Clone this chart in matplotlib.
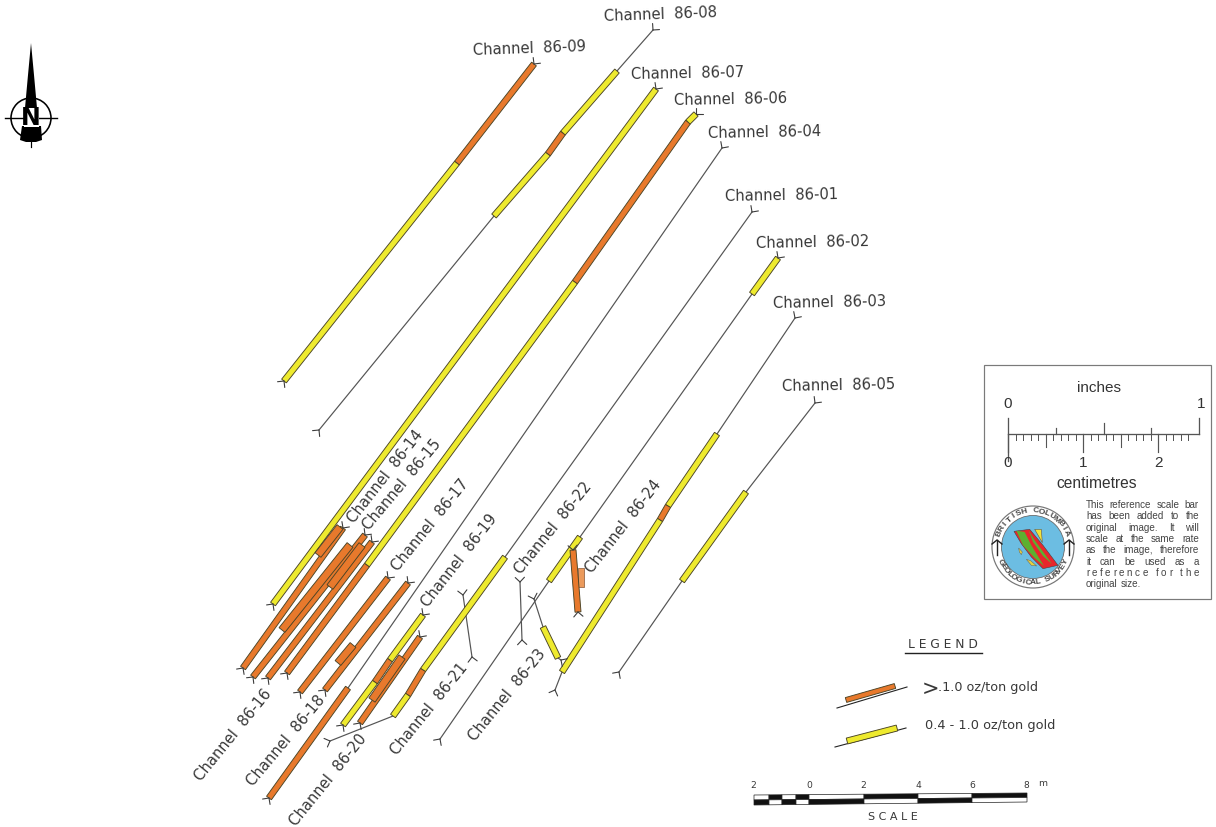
"""Channel sample map, gold grades along each channel."""
import numpy as np
import matplotlib
matplotlib.use("Agg")
import matplotlib.pyplot as plt
from matplotlib.patches import Circle, Polygon, Rectangle

W, H = 1216, 827
C_HIGH = "#e8792c"
C_LOW = "#eeea2e"
C_EDGE = "#4a4426"
C_LINE = "#3c3c3c"
C_TEXT = "#383838"
PX = 0.72  # one pixel in points at dpi 100

# channel traces: map points and the grade of each leg (None = barren line)
ch09_pts = [(284, 381), (457, 163), (534, 64)]
ch09_grade = ["low", "high"]
ch08_pts = [(319, 430), (494, 216), (548, 154), (563, 133), (617, 71), (653, 30)]
ch08_grade = [None, "low", "high", "low", None]
ch07_pts = [(273, 604), (656, 89)]
ch07_grade = ["low"]
ch06_pts = [(287, 673), (367, 565), (575, 282), (688, 122), (696, 114)]
ch06_grade = ["high", "low", "high", "low"]
ch04_pts = [(722, 148), (348, 688), (269, 798)]
ch04_grade = [None, "high"]
ch01_pts = [(752, 212), (505, 557), (423, 670), (408, 695), (393, 716), (330, 741)]
ch01_grade = [None, "low", "high", "low", None]
ch02_pts = [(778, 258), (752, 294), (580, 537), (549, 581), (440, 739)]
ch02_grade = ["low", None, "low", None]
ch03_pts = [(795, 318), (717, 434), (668, 506), (660, 520), (562, 672), (555, 690)]
ch03_grade = [None, "low", "high", "low", None]
ch05_pts = [(815, 403), (746, 492), (682, 581), (619, 672)]
ch05_grade = [None, "low", None]
ch14_pts = [(243, 668), (343, 528)]
ch14_grade = ["high"]
ch15_pts = [(253, 677), (365, 535)]
ch15_grade = ["high"]
ch16_pts = [(268, 678), (372, 542)]
ch16_grade = ["high"]
ch17_pts = [(300, 692), (388, 578)]
ch17_grade = ["high"]
ch18_pts = [(325, 690), (408, 583)]
ch18_grade = ["high"]
ch19_pts = [(343, 725), (375, 682), (390, 660), (423, 615)]
ch19_grade = ["low", "high", "low"]
ch20_pts = [(360, 723), (420, 637)]
ch20_grade = ["high"]
ch21_pts = [(463, 595), (472, 657)]
ch21_grade = [None]
ch22_pts = [(520, 582), (522, 640)]
ch22_grade = [None]
ch23_pts = [(534, 599), (543, 627), (558, 658), (561, 660)]
ch23_grade = [None, "low", None]
ch24_pts = [(573, 550), (578, 612)]
ch24_grade = ["high"]

CHANNELS = [
    (ch09_pts, ch09_grade), (ch08_pts, ch08_grade), (ch07_pts, ch07_grade),
    (ch06_pts, ch06_grade), (ch04_pts, ch04_grade), (ch01_pts, ch01_grade),
    (ch02_pts, ch02_grade), (ch03_pts, ch03_grade), (ch05_pts, ch05_grade),
    (ch14_pts, ch14_grade), (ch15_pts, ch15_grade), (ch16_pts, ch16_grade),
    (ch17_pts, ch17_grade), (ch18_pts, ch18_grade), (ch19_pts, ch19_grade),
    (ch20_pts, ch20_grade), (ch21_pts, ch21_grade), (ch22_pts, ch22_grade),
    (ch23_pts, ch23_grade), (ch24_pts, ch24_grade),
]

# second high-grade samples lying beside the main trace
side_14 = [(318, 555), (340, 527)]
side_15 = [(282, 630), (350, 545)]
side_16 = [(330, 587), (362, 545)]
side_18 = [(338, 663), (353, 645)]
side_20 = [(372, 700), (402, 657)]
side_24 = [(581, 568), (581, 587)]
SIDE_BLOCKS = [side_14, side_15, side_16, side_18, side_20]

channel_names = ["86-09", "86-08", "86-07", "86-06", "86-04", "86-01", "86-02", "86-03", "86-05",
                 "86-14", "86-15", "86-17", "86-19", "86-22", "86-24",
                 "86-16", "86-18", "86-20", "86-21", "86-23"]
label_x = [529, 660, 688, 731, 765, 782, 813, 830, 839,
           385, 402, 430, 459, 553, 623,
           233, 286, 328, 429, 507]
label_y = [49, 15, 74, 100, 133, 196, 243, 303, 386,
           477, 485, 525, 561, 528, 527,
           735, 741, 780, 709, 695]
label_rot = [2, 2, 1, 1, 1, 1, 1, 1, 1,
             52, 50, 51, 52, 51, 52,
             51, 50, 51, 51, 51]

# inset scale values
inch_ticks = [0.25, 0.5, 0.75]
cm_ticks = [0, 1, 2]
mm_ticks = [1, 2, 3, 4, 5, 6, 7, 8, 9, 10, 11, 12, 13, 14, 15, 16, 17, 18, 19, 20, 21, 22, 23, 24]
note_lines = ["This reference scale bar", "has been added to the", "original image. It will",
              "scale at the same rate", "as the image, therefore", "it can be used as a",
              "reference for the", "original size."]

# graphic scale
scale_edges = [754, 769, 782, 796, 809, 864, 918, 972, 1027]
scale_labels = ["2", "0", "2", "4", "6", "8"]
scale_label_x = [753, 809, 863, 918, 972, 1026]

plt.rcParams["font.family"] = ["DejaVu Sans"]
fig = plt.figure(figsize=(W / 100, H / 100), dpi=100)
ax = fig.add_axes([0, 0, 1, 1])
ax.set_xlim(0, W)
ax.set_ylim(H, 0)
ax.axis("off")


def draw_bar(p0, p1, color, width=6.0, z=3, edge=C_EDGE):
    p0, p1 = np.array(p0, float), np.array(p1, float)
    d = (p1 - p0) / np.hypot(*(p1 - p0))
    n = np.array([d[1], -d[0]]) * width / 2
    ax.add_patch(Polygon([p0 + n, p1 + n, p1 - n, p0 - n], closed=True, facecolor=color,
                         edgecolor=edge, linewidth=0.9 * PX, zorder=z))


def draw_fork(end, toward, arm=6.5):
    end, toward = np.array(end, float), np.array(toward, float)
    u = (end - toward) / np.hypot(*(end - toward))
    for ang in (45, -45):
        a = np.radians(ang)
        v = np.array([u[0] * np.cos(a) - u[1] * np.sin(a), u[0] * np.sin(a) + u[1] * np.cos(a)])
        ax.plot([end[0], end[0] + v[0] * arm], [end[1], end[1] + v[1] * arm],
                color=C_LINE, lw=1.1 * PX, zorder=5, solid_capstyle="round")


for pts, grades in CHANNELS:
    for i, g in enumerate(grades):
        if g is None:
            ax.plot([pts[i][0], pts[i + 1][0]], [pts[i][1], pts[i + 1][1]],
                    color="#555555", lw=1.2 * PX, zorder=2)
        else:
            draw_bar(pts[i], pts[i + 1], C_HIGH if g == "high" else C_LOW)
    draw_fork(pts[0], pts[1])
    draw_fork(pts[-1], pts[-2])

for block in SIDE_BLOCKS:
    draw_bar(block[0], block[1], C_HIGH, width=7.5, z=4)
draw_bar(side_24[0], side_24[1], "#eb9a5c", width=6, z=2, edge="#a07050")

for name, x, y, r in zip(channel_names, label_x, label_y, label_rot):
    ax.text(x, y, "Channel  " + name, rotation=r, rotation_mode="anchor", ha="center", va="center",
            fontsize=10.6, color=C_TEXT, zorder=6, clip_on=True)

# north arrow
ax.add_patch(Circle((31, 118), 20, fill=False, edgecolor="black", lw=1.6 * PX, zorder=2))
ax.plot([5, 57], [118, 118], color="black", lw=1.4 * PX, zorder=2)
ax.plot([31, 31], [130, 147], color="black", lw=1.2 * PX, zorder=2)
ax.add_patch(Polygon([(31, 43), (34, 75), (37, 108), (25, 108), (28, 75)], facecolor="black", zorder=3))
ax.add_patch(Polygon([(22, 126), (41, 126), (42, 140), (36, 142), (26, 142), (20, 140)],
                     facecolor="black", zorder=3))
ax.add_patch(Rectangle((24, 108), 15, 19, facecolor="white", edgecolor="none", zorder=3))
ax.text(31, 118, "N", fontsize=17, fontweight="bold", color="black", ha="center", va="center", zorder=4)

# legend
ax.text(943, 644, "L E G E N D", fontsize=8.8, color=C_TEXT, ha="center", va="center")
ax.plot([905, 982], [653, 653], color="#222222", lw=1.4 * PX)
ax.plot([837, 907], [708, 687], color="#222222", lw=1.1 * PX, zorder=2)
ax.plot([835, 906], [747, 728], color="#222222", lw=1.1 * PX, zorder=2)
draw_bar((846, 700), (895, 686), C_HIGH, width=5)
draw_bar((847, 741), (897, 728), C_LOW, width=6)
ax.text(930, 689, ">", fontsize=15, color=C_TEXT, ha="center", va="center")
ax.text(938, 688, ".1.0 oz/ton gold", fontsize=9.2, color=C_TEXT, ha="left", va="center")
ax.text(925, 726, "0.4 - 1.0 oz/ton gold", fontsize=9.3, color=C_TEXT, ha="left", va="center")

# graphic scale bar, tilted slightly across the page
def scale_y(x, frac):
    t = (x - scale_edges[0]) / (scale_edges[-1] - scale_edges[0])
    top, bot = 795 - 2 * t, 805 - 3 * t
    return top + frac * (bot - top)


for i in range(len(scale_edges) - 1):
    x0, x1 = scale_edges[i], scale_edges[i + 1]
    top_black = i % 2 == 1
    for frac0, frac1, black in ((0, 0.5, top_black), (0.5, 1, not top_black)):
        ax.add_patch(Polygon([(x0, scale_y(x0, frac0)), (x1, scale_y(x1, frac0)),
                              (x1, scale_y(x1, frac1)), (x0, scale_y(x0, frac1))],
                             facecolor="#111111" if black else "white",
                             edgecolor="#222222", linewidth=0.7 * PX))
for s, x in zip(scale_labels, scale_label_x):
    ax.text(x, 785, s, fontsize=6.6, color=C_TEXT, ha="center", va="center")
ax.text(1043, 784, "m", fontsize=6.6, color=C_TEXT, ha="center", va="center")
ax.text(893, 817, "S C A L E", fontsize=8, color=C_TEXT, ha="center", va="center")

# reference scale inset
SANS = "Liberation Sans"
ax.add_patch(Rectangle((984, 365), 227, 234, facecolor="white", edgecolor="#7a7a7a", lw=1.2 * PX, zorder=1))
ax.text(1099, 388, "inches", family=SANS, fontsize=11, color="#333333", ha="center", va="center")
ax.text(1008, 404, "0", family=SANS, fontsize=11, color="#333333", ha="center", va="center")
ax.text(1201, 404, "1", family=SANS, fontsize=11, color="#333333", ha="center", va="center")
ax.text(1097, 483, "centimetres", family=SANS, fontsize=11.2, color="#333333", ha="center", va="center")
x_in0, in_len = 1008.0, 191.0
cm_len = 75.2
c_sc = "#555555"
ax.plot([x_in0, x_in0 + in_len], [434, 434], color=c_sc, lw=1.3 * PX)
ax.plot([x_in0, x_in0], [418, 461], color=c_sc, lw=1.3 * PX)
ax.plot([x_in0 + in_len] * 2, [418, 434], color=c_sc, lw=1.3 * PX)
for t in inch_ticks:
    ax.plot([x_in0 + t * in_len] * 2, [423 if t == 0.5 else 428, 434], color=c_sc, lw=1.2 * PX)
for m in mm_ticks:
    ax.plot([x_in0 + m * cm_len / 10] * 2, [434, 440], color=c_sc, lw=1.0 * PX)
for m in (5, 15):
    ax.plot([x_in0 + m * cm_len / 10] * 2, [434, 447], color=c_sc, lw=1.1 * PX)
for c in cm_ticks:
    ax.plot([x_in0 + c * cm_len] * 2, [434, 452], color=c_sc, lw=1.2 * PX)
    ax.text(x_in0 + c * cm_len, 463, str(c), family=SANS, fontsize=11, color="#333333",
            ha="center", va="center")

# note text, justified across the column
renderer = fig.canvas.get_renderer()
note_left, note_right = 1086.0, 1199.0
note_y = [505, 516, 528, 539, 550, 562, 573, 584]


def put_justified(line, y, by_char=False, justify=True):
    tokens = list(line) if by_char else line.split(" ")
    arts = [ax.text(0, y, tok if tok != " " else "\u00a0", family=SANS, fontsize=7.1, color="#444444",
                    ha="left", va="center") for tok in tokens]
    widths = [a.get_window_extent(renderer).width for a in arts]
    if by_char:
        widths = [w if tok != " " else 3.0 for w, tok in zip(widths, tokens)]
    gap = (note_right - note_left - sum(widths)) / max(len(tokens) - 1, 1)
    if not justify:
        gap = 2.6
    x = note_left
    for a, w in zip(arts, widths):
        a.set_x(x)
        x += w + gap


for k, (line, y) in enumerate(zip(note_lines, note_y)):
    put_justified(line, y, by_char=k == 6, justify=k != 7)

# survey crest
cx, cy = 1033.0, 547.0
ax.add_patch(Circle((cx, cy), 41, facecolor="white", edgecolor="#777777", lw=1.2 * PX, zorder=2))
ax.add_patch(Circle((cx, cy), 31.5, facecolor="#6cbde2", edgecolor="#666666", lw=0.8 * PX, zorder=3))


def logo_pts(pts):
    return [(988 + x / 3, 502 + y / 3) for x, y in pts]


ax.add_patch(Polygon(logo_pts([(78, 88), (125, 82), (165, 130), (210, 190), (165, 200), (130, 165), (100, 125)]),
                     facecolor="#e8262c", edgecolor="#444444", lw=0.4, zorder=4))
ax.add_patch(Polygon(logo_pts([(85, 86), (110, 90), (130, 130), (168, 192), (140, 168), (105, 130)]),
                     facecolor="#5cb030", zorder=5))
ax.add_patch(Polygon(logo_pts([(122, 85), (140, 115), (192, 186), (165, 162), (135, 120)]),
                     facecolor="#5cb030", zorder=5))
ax.add_patch(Polygon(logo_pts([(140, 82), (160, 82), (163, 122)]), facecolor="#f3e23a",
                     edgecolor="#555555", lw=0.4, zorder=4))
ax.add_patch(Polygon(logo_pts([(92, 138), (103, 150), (100, 158), (94, 150)]), facecolor="#e8d040",
                     edgecolor="#555555", lw=0.3, zorder=5))
ax.add_patch(Polygon(logo_pts([(115, 172), (128, 176), (146, 192), (130, 190)]), facecolor="#e8d040",
                     edgecolor="#555555", lw=0.3, zorder=5))
# pick hammers either side of the ring
for hx in (cx - 36, cx + 36):
    ax.plot([hx, hx], [cy - 7, cy + 8], color="#222222", lw=1.4 * PX, zorder=4)
    ax.plot([hx - 5, hx, hx + 5], [cy - 3, cy - 7, cy - 3], color="#222222", lw=1.4 * PX, zorder=4)


def arc_text(s, start, end, r, flip=False):
    for ch, ang in zip(s, np.linspace(start, end, len(s))):
        a = np.radians(ang)
        x, y = cx + r * np.cos(a), cy - r * np.sin(a)
        rot = ang - 90 if not flip else ang + 90
        ax.text(x, y, ch, family=SANS, fontsize=6, fontweight="bold", color="#444444", ha="center", va="center",
                rotation=rot, rotation_mode="anchor", zorder=5)


arc_text("BRITISH COLUMBIA", 158, 22, 36)
arc_text("GEOLOGICAL SURVEY", 205, 335, 36, flip=True)

fig.savefig("out.png", dpi=100, facecolor="white")
